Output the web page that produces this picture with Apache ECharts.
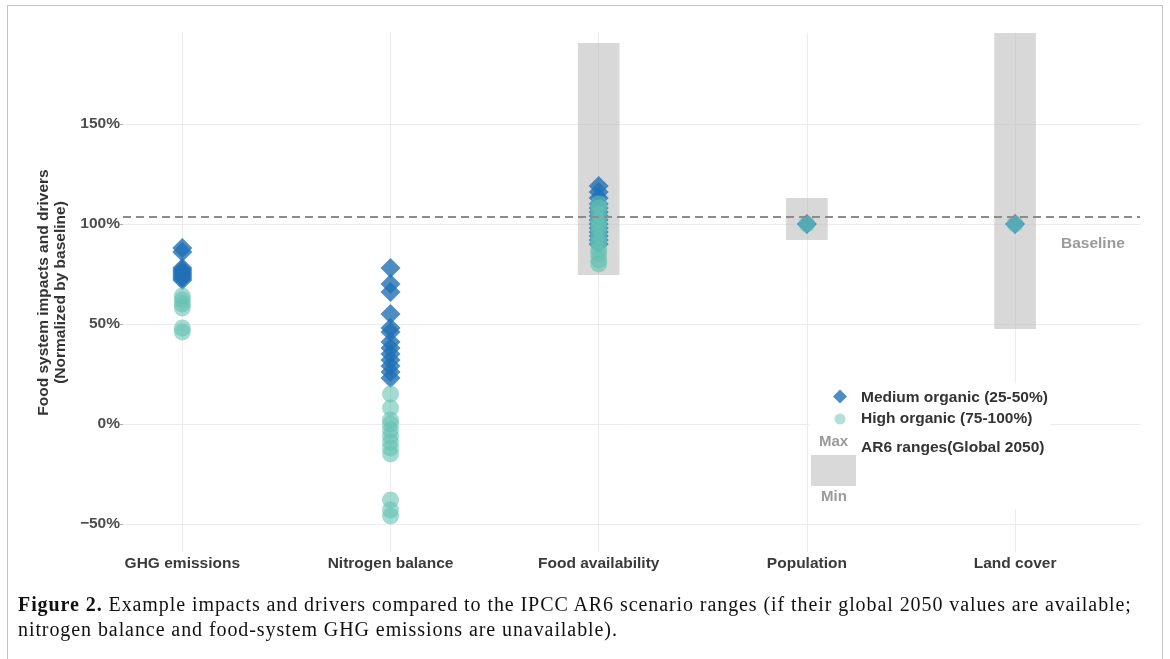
<!DOCTYPE html>
<html>
<head>
<meta charset="utf-8">
<script src="https://cdn.jsdelivr.net/npm/echarts@6/dist/echarts.min.js"></script>
<style>
  html, body { margin: 0; padding: 0; background: #fff; }
  #frame { position: absolute; left: 7px; top: 5px; width: 1156px; height: 700px; border: 1px solid #c4c4c4; box-sizing: border-box; }
  #chart { position: absolute; left: 0; top: 0; width: 1170px; height: 659px; }
  #cap { position: absolute; left: 18px; top: 592px; width: 1145px; font-family: 'Liberation Serif', 'DejaVu Serif', serif; font-size: 20px; letter-spacing: 0.92px; line-height: 25px; color: #111; white-space: nowrap; }
</style>
</head>
<body>
<div id="frame"></div>
<div id="chart"></div>
<div id="cap"><b>Figure 2.</b> Example impacts and drivers compared to the IPCC AR6 scenario ranges (if their global 2050 values are available;<br>nitrogen balance and food-system GHG emissions are unavailable).</div>
<script>
// ---- data ----
const categories = ['GHG emissions', 'Nitrogen balance', 'Food availability', 'Population', 'Land cover'];
const mediumGHG  = [88, 86, 78, 77, 76, 75, 74, 73, 72];
const mediumN    = [78, 70, 66, 55, 48, 46, 41, 38, 35, 32, 29, 26, 23];
const mediumFood = [119, 116, 113, 110, 108, 106, 104, 102, 100, 98, 96, 94, 92, 90];
const mediumPop  = [100];
const mediumLand = [100];
const highGHG  = [64, 62, 60, 58, 48, 46];
const highN    = [15, 8, 2, 0, -3, -6, -9, -12, -15, -38, -43, -46];
const highFood = [110, 108, 105, 102, 100, 98, 95, 92, 90, 87, 85, 82, 80];
const highPop  = [100];
const highLand = [100];
const rangeCats = ['Food availability', 'Population', 'Land cover'];
const rangeMin  = [74.5, 92, 47.5];
const rangeMax  = [190.5, 113, 195.5];
const baselineValue = 103.5;
const yTicks = [-50, 0, 50, 100, 150];
const mediumName = 'Medium organic (25-50%)';
const highName = 'High organic (75-100%)';

// ---- build ----
function toPoints(lists) {
  const out = [];
  lists.forEach((arr, i) => arr.forEach(v => out.push([i + 1, v])));
  return out;
}
const mediumData = toPoints([mediumGHG, mediumN, mediumFood, mediumPop, mediumLand]);
const highData = toPoints([highGHG, highN, highFood, highPop, highLand]);
const rangeData = rangeCats.map((c, i) => [categories.indexOf(c) + 1, rangeMin[i], rangeMax[i]]);
const xPos = categories.map((c, i) => i + 1);

const labelFont = { fontFamily: 'Liberation Sans, Arial, sans-serif', fontWeight: 'bold', fontSize: 15.5 };
const grayTxt = '#9a9a9a';
const legFont = 'bold 15.5px Liberation Sans, Arial, sans-serif';

const chart = echarts.init(document.getElementById('chart'), null, { renderer: 'canvas' });
chart.setOption({
  animation: false,
  backgroundColor: 'transparent',
  grid: { left: 123, right: 30, top: 33, bottom: 107, containLabel: false },
  xAxis: {
    type: 'value', min: 0.715, max: 5.6,
    axisLine: { show: false }, axisTick: { show: false }, splitLine: { show: false },
    axisLabel: Object.assign({
      customValues: xPos, color: '#3a3a3a', margin: 4,
      formatter: v => categories[Math.round(v) - 1] || ''
    }, labelFont)
  },
  yAxis: {
    type: 'value', min: -64, max: 195.5,
    axisLine: { show: false },
    axisTick: { show: true, customValues: yTicks, length: 3, lineStyle: { color: '#b0b0b0' } },
    splitLine: { show: false },
    axisLabel: Object.assign({
      customValues: yTicks, color: '#4d4d4d', margin: 3,
      formatter: v => (v < 0 ? '\u2212' + Math.abs(v) : v) + '%'
    }, labelFont),
    name: 'Food system impacts and drivers\n(Normalized by baseline)',
    nameLocation: 'middle', nameRotate: 90, nameGap: 54,
    nameTextStyle: Object.assign({ color: '#333', lineHeight: 17 }, labelFont)
  },
  series: [
    {
      type: 'line', data: [], z: 0, silent: true,
      markLine: {
        z: 0, silent: true, symbol: 'none', animation: false,
        label: { show: false },
        lineStyle: { color: '#ececec', width: 1, type: 'solid' },
        data: xPos.map(x => ({ xAxis: x })).concat(yTicks.map(y => ({ yAxis: y })))
      }
    },
    {
      type: 'custom', z: 1, silent: true, clip: true,
      data: rangeData,
      encode: { x: 0, y: [1, 2] },
      renderItem: function (params, api) {
        const x = api.value(0), lo = api.value(1), hi = api.value(2);
        const p1 = api.coord([x - 0.1, hi]);
        const p2 = api.coord([x + 0.1, lo]);
        return { type: 'rect', shape: { x: p1[0], y: p1[1], width: p2[0] - p1[0], height: p2[1] - p1[1] },
                 style: { fill: 'rgba(190,190,190,0.6)' } };
      }
    },
    {
      name: mediumName, type: 'scatter', z: 3, symbol: 'diamond', symbolSize: [20, 20],
      itemStyle: { color: '#2171b5', opacity: 0.8 },
      data: mediumData
    },
    {
      name: highName, type: 'scatter', z: 4, symbol: 'circle', symbolSize: 17,
      itemStyle: { color: '#66c2b3', opacity: 0.6 },
      data: highData
    },
    {
      type: 'line', data: [], z: 6, silent: true,
      markLine: {
        z: 6, silent: true, symbol: 'none', animation: false,
        label: { show: false },
        lineStyle: { color: '#8c8c8c', width: 2, type: [8, 5] },
        data: [{ yAxis: baselineValue }]
      }
    }
  ],
  graphic: [
    { type: 'text', left: 1061, top: 236, style: { text: 'Baseline', fill: grayTxt, font: legFont } },
    { type: 'rect', z: 10, shape: { x: 809, y: 383, width: 241, height: 126 }, style: { fill: '#ffffff' } },
    { type: 'polygon', z: 11, shape: { points: [[840, 389.5], [847, 396.5], [840, 403.5], [833, 396.5]] }, style: { fill: 'rgba(33,113,181,0.8)' } },
    { type: 'circle', z: 11, shape: { cx: 840, cy: 419, r: 5.5 }, style: { fill: 'rgba(102,194,179,0.5)' } },
    { type: 'text', z: 11, left: 861, top: 390, style: { text: mediumName, fill: '#333', font: legFont } },
    { type: 'text', z: 11, left: 861, top: 411, style: { text: highName, fill: '#333', font: legFont } },
    { type: 'text', z: 11, left: 861, top: 440, style: { text: 'AR6 ranges(Global 2050)', fill: '#333', font: legFont } },
    { type: 'rect', z: 11, shape: { x: 811, y: 455, width: 45, height: 31 }, style: { fill: '#d9d9d9' } },
    { type: 'text', z: 11, left: 819, top: 434, style: { text: 'Max', fill: grayTxt, font: 'bold 15px Liberation Sans, Arial, sans-serif' } },
    { type: 'text', z: 11, left: 821, top: 489, style: { text: 'Min', fill: grayTxt, font: 'bold 15px Liberation Sans, Arial, sans-serif' } }
  ]
});
</script>
</body>
</html>
